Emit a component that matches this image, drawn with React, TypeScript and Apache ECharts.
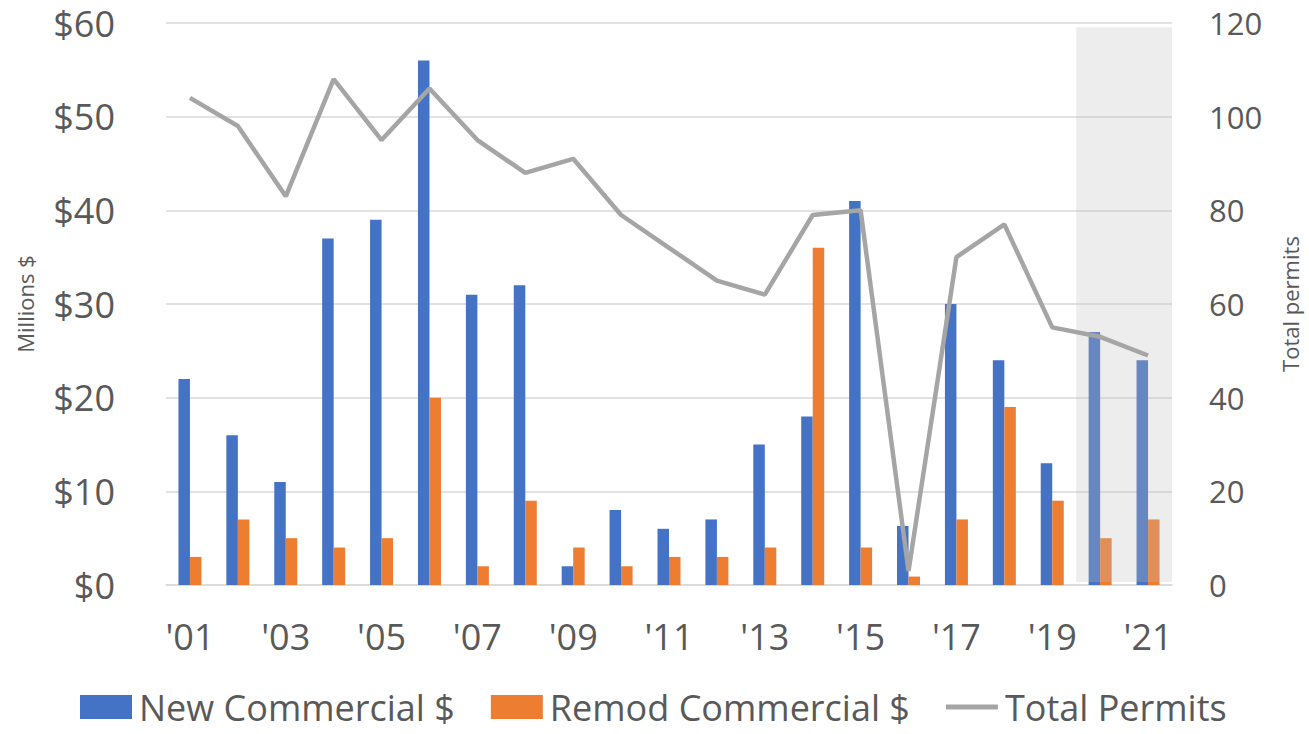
import React, { useEffect, useRef } from "react";
import * as echarts from "echarts";

const years = ["'01","'02","'03","'04","'05","'06","'07","'08","'09","'10","'11","'12","'13","'14","'15","'16","'17","'18","'19","'20","'21"];
const newCommercial = [22, 16, 11, 37, 39, 56, 31, 32, 2, 8, 6, 7, 15, 18, 41, 6.3, 30, 24, 13, 27, 24];
const remodCommercial = [3, 7, 5, 4, 5, 20, 2, 9, 4, 2, 3, 3, 4, 36, 4, 0.9, 7, 19, 9, 5, 7];
const totalPermits = [104, 98, 83, 108, 95, 106, 95, 88, 91, 79, 72, 65, 62, 79, 80, 3, 70, 77, 55, 53, 49];
const shadedFrom = "'20";
const shadedTo = "'21";

export default function App() {
  const ref = useRef<HTMLDivElement>(null);
  useEffect(() => {
    const chart = echarts.init(ref.current!, null, { renderer: "svg" });
    const txt = "#595959";
    chart.setOption({
      animation: false,
      textStyle: { fontFamily: "Open Sans" },
      grid: { left: 166, right: 137, top: 23, bottom: 149, containLabel: false, outerBoundsMode: "none" },
      legend: {
        bottom: 9,
        left: 80,
        padding: 0,
        itemWidth: 52,
        itemHeight: 24,
        itemGap: 36,
        textStyle: { fontSize: 36, lineHeight: 32, color: txt, fontFamily: "Open Sans", padding: [0, 0, 0, 2] },
        data: [
          { name: "New Commercial $", icon: "rect" },
          { name: "Remod Commercial $", icon: "rect" },
          { name: "Total Permits", icon: "path://M0,0H52V5H0Z" },
        ],
      },
      xAxis: {
        type: "category",
        data: years,
        axisLine: { lineStyle: { color: "#d9d9d9", width: 1.5 } },
        axisTick: { show: false, interval: 0 },
        axisLabel: { interval: 1, fontSize: 36, color: txt, margin: 33 },
      },
      yAxis: [
        {
          type: "value",
          min: 0,
          max: 60,
          interval: 10,
          name: "Millions $",
          nameLocation: "middle",
          nameGap: 130,
          nameRotate: 90,
          nameTextStyle: { fontSize: 22, color: txt },
          axisLabel: { fontSize: 36, color: txt, margin: 51, formatter: (v: number) => "$" + v },
          splitLine: { lineStyle: { color: "#d9d9d9", width: 1.5 } },
          axisLine: { show: false },
          axisTick: { show: false },
        },
        {
          type: "value",
          min: 0,
          max: 120,
          interval: 20,
          name: "Total permits",
          nameLocation: "middle",
          nameGap: 107,
          nameRotate: 90,
          nameTextStyle: { fontSize: 22, color: txt },
          axisLabel: { fontSize: 31, color: txt, margin: 37 },
          splitLine: { show: false },
          axisLine: { show: false },
          axisTick: { show: false },
        },
      ],
      series: [
        {
          name: "New Commercial $",
          type: "bar",
          data: newCommercial,
          barWidth: 11.5,
          barGap: "0%",
          itemStyle: { color: "#4472C4" },
          markArea: {
            silent: true,
            z: 3,
            itemStyle: { color: "rgba(191,191,191,0.28)" },
            data: [[{ xAxis: shadedFrom, yAxis: 59.55 }, { xAxis: shadedTo, yAxis: 0.32 }]],
          },
        },
        {
          name: "Remod Commercial $",
          type: "bar",
          data: remodCommercial,
          barWidth: 11.5,
          barGap: "0%",
          itemStyle: { color: "#ED7D31" },
        },
        {
          name: "Total Permits",
          type: "line",
          yAxisIndex: 1,
          data: totalPermits,
          symbol: "none",
          z: 5,
          lineStyle: { color: "#A5A5A5", width: 4.5 },
          itemStyle: { color: "#A5A5A5" },
        },
      ],
    });
    return () => chart.dispose();
  }, []);
  return (
    <div
      ref={ref}
      style={{ position: "fixed", left: 0, top: 0, width: 1309, height: 734, background: "#fff" }}
    />
  );
}
